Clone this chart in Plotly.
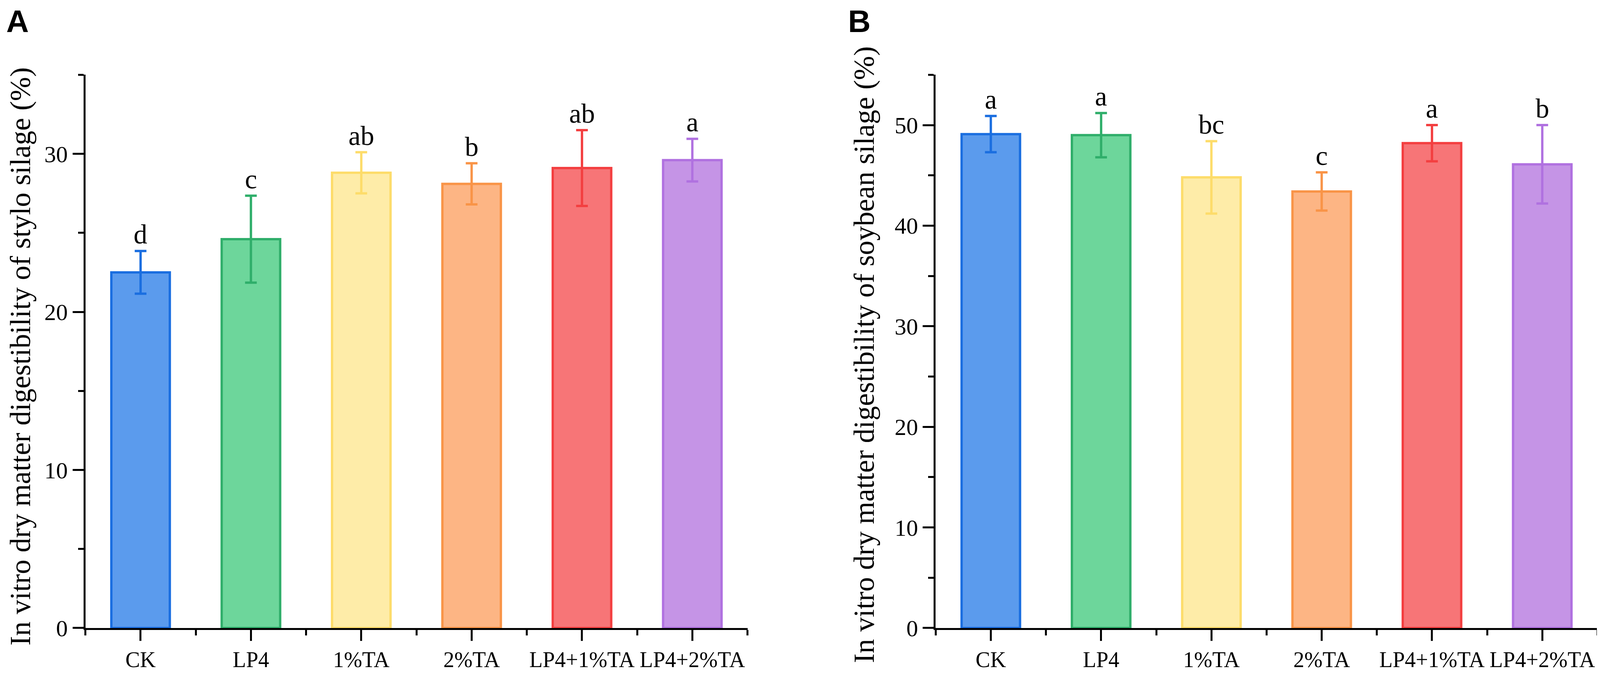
import plotly.graph_objects as go

# Treatments and values
categories = ["CK", "LP4", "1%TA", "2%TA", "LP4+1%TA", "LP4+2%TA"]

stylo_mean = [22.5, 24.6, 28.8, 28.1, 29.1, 29.6]
stylo_sd = [1.35, 2.75, 1.3, 1.3, 2.4, 1.35]
stylo_letters = ["d", "c", "ab", "b", "ab", "a"]

soy_mean = [49.1, 49.0, 44.8, 43.4, 48.2, 46.1]
soy_sd = [1.8, 2.2, 3.6, 1.9, 1.8, 3.9]
soy_letters = ["a", "a", "bc", "c", "a", "b"]

# fill / outline colours per treatment
fill_colors = ["#5b9bed", "#6dd69b", "#feeca8", "#fdb584", "#f77577", "#c594e6"]
line_colors = ["#1a6ee0", "#2fae6a", "#fddc6a", "#f99447", "#f33f40", "#b071e0"]

# the browser viewport is 4096 wide and the page body has an 8px margin,
# so reference pixel positions are mapped onto that
SX = 4096 / 4328
W, H = 4088, 1732
serif = "Liberation Serif"


def px(xref_px):
    return (xref_px * SX - 8) / W


def py(yref_px):
    return 1 - (yref_px - 8) / H


fig = go.Figure()

x_idx = list(range(len(categories)))

panels = [
    ("x", "y", stylo_mean, stylo_sd, stylo_letters),
    ("x2", "y2", soy_mean, soy_sd, soy_letters),
]

for xa, ya, means, sds, letters in panels:
    for i, cat in enumerate(categories):
        fig.add_trace(go.Bar(
            x=[x_idx[i]], y=[means[i]],
            xaxis=xa, yaxis=ya,
            width=0.53,
            marker=dict(color=fill_colors[i], line=dict(color=line_colors[i], width=6)),
            error_y=dict(type="data", array=[sds[i]], visible=True,
                         color=line_colors[i], thickness=6, width=15),
            name=cat, showlegend=False,
            hovertemplate=f"{cat}: %{{y}}<extra></extra>",
        ))
        fig.add_annotation(
            x=x_idx[i], y=means[i] + sds[i], xref=xa, yref=ya,
            text=letters[i], showarrow=False,
            xanchor="center", yanchor="bottom", yshift=2,
            font=dict(family=serif, size=70, color="black"),
        )

y_bottom = py(1639)
y_top = py(195)

xaxis_common = dict(
    range=[-0.5, 5.5],
    tickvals=x_idx, ticktext=categories,
    showline=True, linecolor="black", linewidth=5,
    ticks="outside", ticklen=28, tickwidth=5, tickcolor="black",
    minor=dict(tickvals=[i - 0.5 for i in range(len(categories) + 1)],
               ticks="outside", ticklen=14, tickwidth=5, tickcolor="black"),
    tickfont=dict(family=serif, size=56, color="black"),
    showgrid=False, zeroline=False, fixedrange=True,
)
yaxis_common = dict(
    showline=True, linecolor="black", linewidth=5,
    ticks="outside", ticklen=28, tickwidth=5, tickcolor="black",
    dtick=10,
    minor=dict(dtick=5, ticks="outside", ticklen=14, tickwidth=5, tickcolor="black"),
    tickfont=dict(family=serif, size=60, color="black"),
    showgrid=False, zeroline=False, domain=[y_bottom, y_top],
)

fig.update_layout(
    width=W, height=H,
    margin=dict(l=0, r=0, t=0, b=0),
    paper_bgcolor="white", plot_bgcolor="white",
    showlegend=False,
    xaxis=dict(domain=[px(231), px(2022)], anchor="y", **xaxis_common),
    yaxis=dict(range=[0, 35], anchor="x", **yaxis_common),
    xaxis2=dict(domain=[px(2531), px(4321)], anchor="y2", **xaxis_common),
    yaxis2=dict(range=[0, 55], anchor="x2", **yaxis_common),
)

# axis titles
titles = [
    (44 / W, py(930), "In vitro dry matter digestibility of stylo silage (%)"),
    (px(2337), py(926), "In vitro dry matter digestibility of soybean silage (%)"),
]
for xp, yp, txt in titles:
    fig.add_annotation(
        x=xp, y=yp, xref="paper", yref="paper",
        text=txt, textangle=-90, showarrow=False,
        xanchor="center", yanchor="middle",
        font=dict(family=serif, size=74, color="black"),
    )

# panel letters
for xp, lab in [(px(15), "A"), (px(2292), "B")]:
    fig.add_annotation(
        x=xp, y=1, xref="paper", yref="paper",
        text=f"<b>{lab}</b>", showarrow=False,
        xanchor="left", yanchor="top",
        font=dict(family="Liberation Sans", size=80, color="black"),
    )

fig.write_html("out.html")
